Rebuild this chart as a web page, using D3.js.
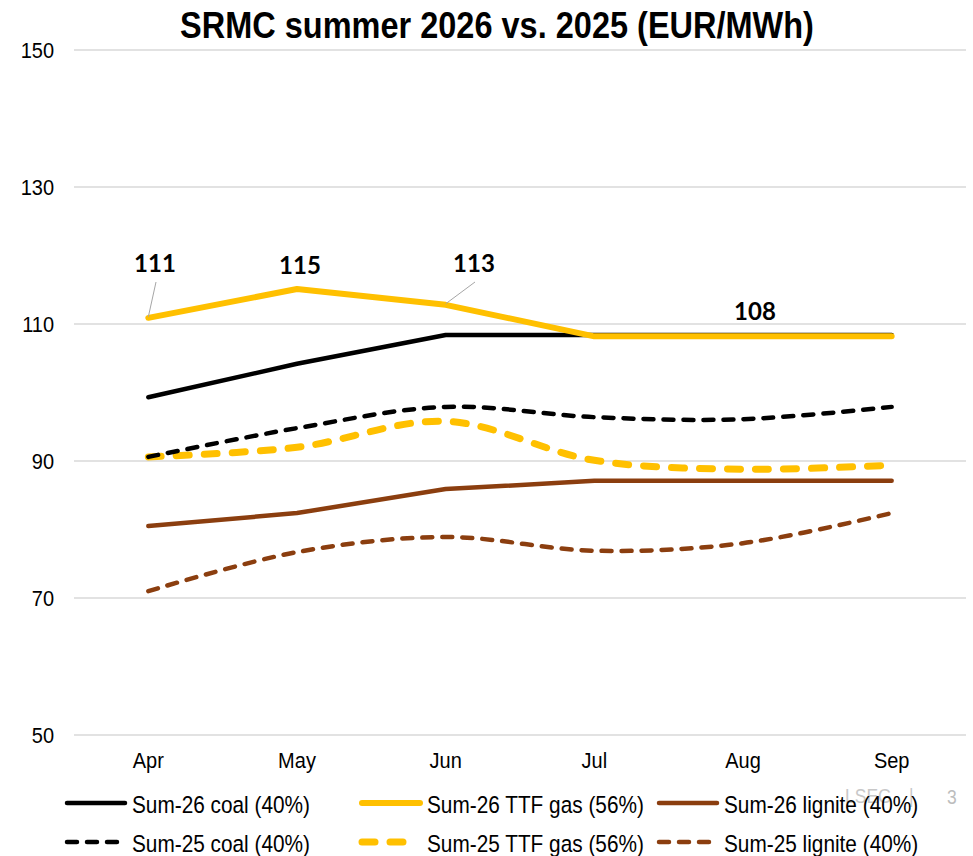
<!DOCTYPE html>
<html>
<head>
<meta charset="utf-8">
<script src="https://cdn.jsdelivr.net/npm/d3@7"></script>
<style>
	body { margin: 0; background: #fff; }
	text { font-family: "Liberation Sans", Arial, sans-serif; }
</style>
</head>
<body>
<div id="chart"></div>
<script>
// data
var months = ["Apr", "May", "Jun", "Jul", "Aug", "Sep"];
var yTicks = [50, 70, 90, 110, 130, 150];

var coal26 = [99.3, 104.2, 108.4, 108.4, 108.4, 108.4];
var gas26 = [110.9, 115.1, 112.8, 108.2, 108.2, 108.2];
var lignite26 = [80.5, 82.4, 85.9, 87.1, 87.1, 87.1];
var coal25 = [90.6, 94.8, 97.9, 96.4, 96.1, 97.9];
var gas25 = [90.6, 92.0, 95.8, 90.1, 88.8, 89.4];
var lignite25 = [71.0, 76.7, 78.9, 76.9, 78.0, 82.4];

var labelValues = ["111", "115", "113", "108"];

var series = [
	{name: "Sum-26 coal (40%)", values: coal26, color: "#000000", w: 4.5, dash: null},
	{name: "Sum-26 TTF gas (56%)", values: gas26, color: "#FFC000", w: 6, dash: null},
	{name: "Sum-26 lignite (40%)", values: lignite26, color: "#8B3E0F", w: 4.5, dash: null},
	{name: "Sum-25 coal (40%)", values: coal25, color: "#000000", w: 4.5, dash: "10,10"},
	{name: "Sum-25 TTF gas (56%)", values: gas25, color: "#FFC000", w: 7, dash: "13,15"},
	{name: "Sum-25 lignite (40%)", values: lignite25, color: "#8B3E0F", w: 4.5, dash: "10,10"}
];

var width = 973, height = 856;
var stretch = 1.12; // the reference text is a bit taller than wide

var svg = d3.select("#chart").append("svg")
	.attr("width", width)
	.attr("height", height);

var x = d3.scaleBand().domain(months).range([74, 966]);
var y = d3.scaleLinear().domain([50, 150]).range([735, 50]);
function cx(m) { return x(m) + x.bandwidth() / 2; }

//place a text at x,y with the vertical stretch
function at(px, py) {
	return "translate(" + px + "," + py + ") scale(1," + stretch + ")";
}

// title
svg.append("text")
	.attr("transform", at(497, 38))
	.attr("text-anchor", "middle")
	.style("font-size", "32.5px").style("font-weight", "bold")
	.text("SRMC summer 2026 vs. 2025 (EUR/MWh)");

// gridlines + y labels
svg.append("g").selectAll("line").data(yTicks).enter().append("line")
	.attr("x1", 74).attr("x2", 966)
	.attr("y1", function(d) { return y(d); })
	.attr("y2", function(d) { return y(d); })
	.attr("stroke", "#D9D9D9").attr("stroke-width", 1.5);

svg.append("g").selectAll("text").data(yTicks).enter().append("text")
	.attr("transform", function(d) { return at(54, y(d) + 8); })
	.attr("text-anchor", "end")
	.style("font-size", "20px").attr("fill", "#000")
	.text(function(d) { return d; });

// x labels
svg.append("g").selectAll("text").data(months).enter().append("text")
	.attr("transform", function(d) { return at(cx(d), 768); })
	.attr("text-anchor", "middle")
	.style("font-size", "20px")
	.text(function(d) { return d; });

// lines, dashed ones are smoothed
var lineStraight = d3.line()
	.x(function(d, i) { return cx(months[i]); })
	.y(function(d) { return y(d); });
var lineSmooth = d3.line()
	.x(function(d, i) { return cx(months[i]); })
	.y(function(d) { return y(d); })
	.curve(d3.curveCatmullRom.alpha(0.5));

var drawOrder = [5, 4, 3, 2, 0, 1];
drawOrder.forEach(function(k) {
	var s = series[k];
	svg.append("path")
		.datum(s.values)
		.attr("d", s.dash ? lineSmooth : lineStraight)
		.attr("fill", "none")
		.attr("stroke", s.color)
		.attr("stroke-width", s.w)
		.attr("stroke-linecap", "round")
		.attr("stroke-linejoin", "round")
		.attr("stroke-dasharray", s.dash);
});

// data labels on the gas line
var labels = [
	{i: 0, text: labelValues[0], lx: 155, ly: 272, lead: true},
	{i: 1, text: labelValues[1], lx: 300, ly: 274, lead: false},
	{i: 2, text: labelValues[2], lx: 474, ly: 272, lead: true},
	{i: 4, text: labelValues[3], lx: 755, ly: 320, lead: false}
];
labels.forEach(function(l) {
	if (l.lead) {
		svg.append("line")
			.attr("x1", l.lx + 1).attr("y1", l.ly + 10)
			.attr("x2", cx(months[l.i])).attr("y2", y(gas26[l.i]) - 1)
			.attr("stroke", "#A6A6A6").attr("stroke-width", 1);
	}
	svg.append("text")
		.attr("x", l.lx).attr("y", l.ly)
		.attr("text-anchor", "middle")
		.style("font-family", "Lato, 'Open Sans', sans-serif")
		.style("font-size", "24px").style("font-weight", "bold")
		.text(l.text);
});

// watermark
svg.append("text").attr("transform", at(845, 803))
	.style("font-size", "17.5px").attr("fill", "#C8C8C8").text("LSEG");
svg.append("text").attr("transform", at(909, 803))
	.style("font-size", "17.5px").attr("fill", "#C8C8C8").text("|");
svg.append("text").attr("transform", at(947, 804))
	.style("font-size", "17.5px").attr("fill", "#BDBDBD").text("3");

// legend
var legX = [65, 360, 657];
var legend = svg.append("g").selectAll("g").data(series).enter().append("g")
	.attr("transform", function(d, i) {
		return "translate(" + legX[i % 3] + "," + (i < 3 ? 803 : 842) + ")";
	});
legend.append("line")
	.attr("x1", 2).attr("x2", function(d) { return d.dash ? 56 : 60; })
	.attr("y1", 0).attr("y2", 0)
	.attr("stroke", function(d) { return d.color; })
	.attr("stroke-width", function(d) { return d.w; })
	.attr("stroke-linecap", "round")
	.attr("stroke-dasharray", function(d) { return d.dash; });
legend.append("text")
	.attr("transform", at(67, 10))
	.style("font-size", "20.8px")
	.text(function(d) { return d.name; });
</script>
</body>
</html>
